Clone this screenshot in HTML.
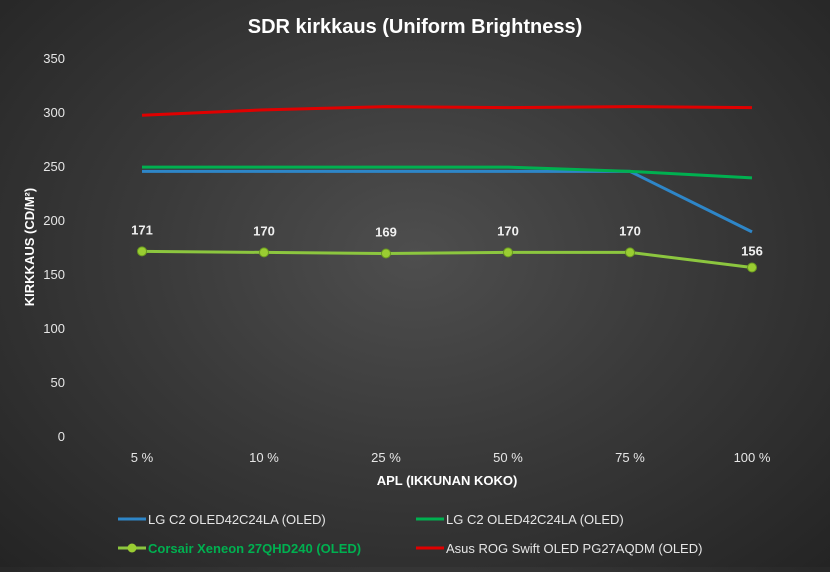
<!DOCTYPE html>
<html><head><meta charset="utf-8"><style>
body{margin:0;width:830px;height:567px;overflow:hidden;background:radial-gradient(ellipse at 50% 45%,#4e4e4e 0%,#3a3a3a 45%,#242424 100%);font-family:"Liberation Sans","DejaVu Sans",sans-serif;}
svg text{font-family:"Liberation Sans","DejaVu Sans",sans-serif;}
</style></head><body>
<svg id="c" width="830" height="567"></svg>
<script>
const categories=["5 %","10 %","25 %","50 %","75 %","100 %"];
const lgBlue=[245,245,245,245,245,189];
const lgGreen=[249,249,249,249,245,239];
const asusRed=[297,302,305,304,305,304];
const corsair=[171,170,169,170,170,156];
const yTicks=[0,50,100,150,200,250,300,350];
const svg=document.getElementById('c');
const NS='http://www.w3.org/2000/svg';
function x(i){return 142+i*122;}
function y(v){return 436-v*(378/350);}
function el(t,a,txt){const e=document.createElementNS(NS,t);for(const k in a)e.setAttribute(k,a[k]);if(txt!==undefined)e.textContent=txt;svg.appendChild(e);return e;}
let t=el('text',{x:415,y:33,'text-anchor':'middle','font-size':20,'font-weight':'bold',fill:'#fff'},'SDR kirkkaus (Uniform Brightness)');


yTicks.forEach(v=>{
 const l=el('text',{x:65,y:y(v)+5,'text-anchor':'end','font-size':13,fill:'#e6e6e6'},v);
 
 
});
categories.forEach((c,i)=>{
 const l=el('text',{x:x(i),y:462,'text-anchor':'middle','font-size':13,fill:'#e6e6e6'},c);
 
 
});
t=el('text',{x:447,y:485,'text-anchor':'middle','font-size':13,'font-weight':'bold',fill:'#fff'},'APL (IKKUNAN KOKO)');


t=el('text',{x:0,y:0,transform:'translate(34,247) rotate(-90)','text-anchor':'middle','font-size':13,'font-weight':'bold',fill:'#fff'},'KIRKKAUS (CD/M²)');


function line(vals,color,name){
 const p=el('polyline',{points:vals.map((v,i)=>x(i)+','+y(v)).join(' '),fill:'none',stroke:color,'stroke-width':3});
 
 
}
line(lgBlue,'#2e86c8','series-lg-c2-blue');
line(lgGreen,'#00b050','series-lg-c2-green');
line(asusRed,'#e00000','series-asus-rog');
line(corsair,'#8cc63f','series-corsair');
corsair.forEach((v,i)=>{
 const m=el('circle',{cx:x(i),cy:y(v),r:4.5,fill:'#9acd32',stroke:'#6a9a20','stroke-width':1});
 
 
 const lb=el('text',{x:x(i),y:i==5?y(v)-12:y(v)-17,'text-anchor':'middle','font-size':13,'font-weight':'bold',fill:'#f0f0f0'},v);
 
 
});
const legend=[["LG C2 OLED42C24LA (OLED)",'#2e86c8',118,519,false],["LG C2 OLED42C24LA (OLED)",'#00b050',416,519,false],["Corsair Xeneon 27QHD240 (OLED)",'#8cc63f',118,548,true],["Asus ROG Swift OLED PG27AQDM (OLED)",'#e00000',416,548,false]];
legend.forEach(([n,c,lx,ly,mk])=>{
 const ln=el('line',{x1:lx,y1:ly,x2:lx+28,y2:ly,stroke:c,'stroke-width':3});
 
 
 if(mk){const m=el('circle',{cx:lx+14,cy:ly,r:4.5,fill:'#9acd32'});}
 const tx=el('text',{x:lx+30,y:ly+5,'font-size':13,fill:mk?'#00b050':'#e6e6e6','font-weight':mk?'bold':'normal'},n);
 
 
});
</script>
</body></html>
